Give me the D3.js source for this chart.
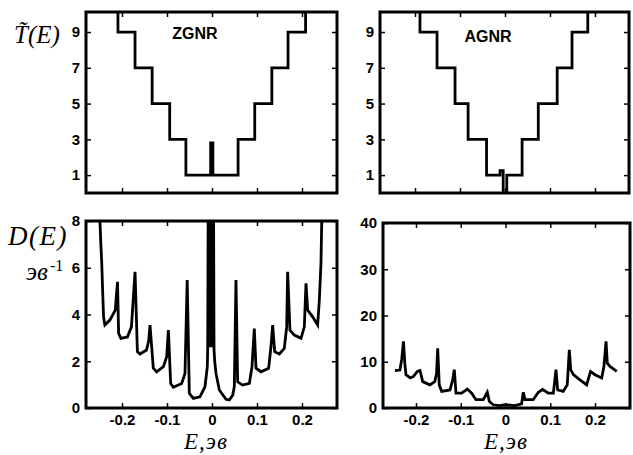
<!DOCTYPE html>
<html>
<head>
<meta charset="utf-8">
<script src="https://cdn.jsdelivr.net/npm/d3@7"></script>
<style>
body { margin: 0; background: #fff; }
.tick text { font-family: "Liberation Sans Narrow", "Liberation Sans", Arial, sans-serif; font-weight: bold; font-size: 15px; fill: #000; }
.tick line { stroke: #000; stroke-width: 1.5; }
.lbl { font-family: "Liberation Serif", "Times New Roman", serif; font-style: italic; fill: #000; }
.ttl { font-family: "Liberation Sans", Arial, sans-serif; font-weight: bold; font-size: 16px; fill: #000; }
</style>
</head>
<body>
<svg id="canvas" width="633" height="455"></svg>
<script>
// tick values
const eTicks = [-0.2, -0.1, 0, 0.1, 0.2];
const tTicks = [1, 3, 5, 7, 9];
const dTicksZ = [0, 2, 4, 6, 8];
const dTicksA = [0, 10, 20, 30, 40];

// transmission, step points (step after)
const zgnrTE = [-0.3, -0.209, -0.171, -0.133, -0.094, -0.058, -0.003, 0.002, 0.058, 0.095, 0.133, 0.169, 0.208, 0.3];
const zgnrT  = [11, 9, 7, 5, 3, 1, 2.8, 1, 3, 5, 7, 9, 11, 11];
const agnrTE = [-0.3, -0.189, -0.151, -0.111, -0.082, -0.041, -0.011, -0.004, 0.004, 0.038, 0.074, 0.116, 0.149, 0.184, 0.3];
const agnrT  = [11, 9, 7, 5, 3, 1, 1.25, 0, 1, 3, 5, 7, 9, 11, 11];

// density of states ZGNR
const zgnrDE = [-0.250, -0.247, -0.245, -0.243, -0.241, -0.238, -0.227, -0.215, -0.210, -0.2075, -0.2025, -0.188, -0.179, -0.171,
  -0.1658, -0.160, -0.1455, -0.1405, -0.1378, -0.1304, -0.123, -0.108, -0.1007, -0.0969, -0.0918, -0.0859, -0.0674, -0.060,
  -0.0551, -0.0504, -0.0415, -0.0267, -0.0156, -0.0104, -0.0095,
  -0.0085, -0.0075, -0.0065, -0.0055, -0.0045, -0.0035, -0.0025, -0.0015, -0.0005, 0.0005, 0.0015, 0.0025, 0.0035, 0.0045,
  0.006, 0.0089, 0.0163, 0.0311, 0.0385, 0.046, 0.0496, 0.0533, 0.057, 0.0681, 0.083, 0.0889, 0.094, 0.0978, 0.1089, 0.1259,
  0.131, 0.1348, 0.1393, 0.1496, 0.1607, 0.166, 0.1681, 0.1733, 0.183, 0.1978, 0.2052, 0.2089, 0.2126, 0.2237, 0.2348,
  0.2385, 0.2422, 0.2444];
const zgnrD = [8.5, 7.0, 6.2, 5.0, 3.9, 3.55, 3.76, 4.19, 5.40, 3.19, 2.98, 3.04, 3.47, 5.83,
  2.41, 2.31, 2.48, 2.9, 3.55, 1.70, 1.55, 1.77, 2.19, 3.33, 1.05, 0.89, 1.05, 1.48,
  5.47, 0.63, 0.41, 0.48, 0.91, 1.77, 2.6,
  8.5, 2.7, 8.5, 2.7, 8.5, 2.6, 8.5, 2.6, 8.5, 2.6, 8.5, 2.6, 8.5, 2.5,
  2.0, 1.48, 0.77, 0.37, 0.34, 0.55, 0.91, 5.47, 1.12, 0.98, 1.05, 1.77, 3.40, 1.70, 1.55, 1.70,
  2.62, 3.55, 2.41, 2.31, 2.55, 3.47, 5.83, 3.33, 3.12, 2.98, 3.47, 5.33, 4.19, 3.9, 3.55,
  4.6, 6.2, 8.5];

// density of states AGNR
const agnrDE = [-0.247, -0.236, -0.232, -0.228, -0.225, -0.2224, -0.213, -0.206, -0.197, -0.191, -0.185, -0.169, -0.158, -0.154,
  -0.1515, -0.148, -0.1426, -0.124, -0.118, -0.1144, -0.1106, -0.098, -0.0853, -0.0755, -0.066, -0.0496, -0.0407, -0.036,
  -0.0273, -0.013, 0.0, 0.021, 0.036, 0.0398, 0.0436, 0.062, 0.0733, 0.083, 0.0957, 0.107, 0.1128, 0.1166, 0.129, 0.138,
  0.1426, 0.1457, 0.1516, 0.1665, 0.1814, 0.19, 0.2, 0.215, 0.22, 0.2246, 0.2275, 0.2335, 0.2485];
const agnrD = [8.1, 8.2, 10.4, 14.4, 9.7, 7.2, 6.5, 6.8, 7.9, 8.1, 5.7, 5.0, 5.7, 7.5,
  12.9, 5.0, 3.6, 3.9, 6.1, 8.3, 3.2, 3.2, 4.1, 3.2, 1.8, 1.8, 3.4, 1.4,
  0.7, 0.5, 0.7, 0.5, 0.9, 3.4, 1.8, 1.8, 3.4, 4.0, 3.2, 3.2, 8.3, 3.9, 3.6, 5.0,
  12.6, 8.3, 7.2, 6.1, 5.0, 7.9, 7.2, 6.5, 9.0, 14.4, 9.7, 9.0, 7.9];

const svg = d3.select("#canvas");

const panels = [
  { x0: 86, y0: 12, x1: 337, y1: 193, xDom: [-0.28, 0.2778], yDom: [0, 10.12], yTicks: tTicks,
    xs: zgnrTE, ys: zgnrT, step: true, xLabels: false, title: "ZGNR", tx: 195, ty: 39 },
  { x0: 380, y0: 12, x1: 629, y1: 193, xDom: [-0.2778, 0.2756], yDom: [0, 10.12], yTicks: tTicks,
    xs: agnrTE, ys: agnrT, step: true, xLabels: false, title: "AGNR", tx: 488, ty: 42 },
  { x0: 86, y0: 221, x1: 337, y1: 408, xDom: [-0.28, 0.2778], yDom: [0, 8], yTicks: dTicksZ,
    xs: zgnrDE, ys: zgnrD, step: false, xLabels: true },
  { x0: 383, y0: 223, x1: 630, y1: 408, xDom: [-0.2737, 0.2782], yDom: [0, 40], yTicks: dTicksA,
    xs: agnrDE, ys: agnrD, step: false, xLabels: true }
];

panels.forEach((p, i) => {
  const x = d3.scaleLinear().domain(p.xDom).range([p.x0, p.x1]);
  const y = d3.scaleLinear().domain(p.yDom).range([p.y1, p.y0]);
  const g = svg.append("g");

  g.append("clipPath").attr("id", "clip" + i)
    .append("rect")
    .attr("x", p.x0).attr("y", p.y0)
    .attr("width", p.x1 - p.x0).attr("height", p.y1 - p.y0);

  const line = d3.line().x(d => x(d[0])).y(d => y(d[1]));
  if (p.step) line.curve(d3.curveStepAfter);

  g.append("path")
    .datum(d3.zip(p.xs, p.ys))
    .attr("clip-path", `url(#clip${i})`)
    .attr("d", line)
    .attr("fill", "none")
    .attr("stroke", "#000")
    .attr("stroke-width", 2.8);

  const fmt = d => String(d);

  g.append("g").attr("transform", `translate(0,${p.y1})`)
    .call(d3.axisBottom(x).tickValues(eTicks).tickSize(-5).tickPadding(6).tickFormat(p.xLabels ? fmt : ""))
    .call(a => a.select(".domain").remove());
  g.append("g").attr("transform", `translate(0,${p.y0})`)
    .call(d3.axisTop(x).tickValues(eTicks).tickSize(-5).tickFormat(""))
    .call(a => a.select(".domain").remove());
  g.append("g").attr("transform", `translate(${p.x0},0)`)
    .call(d3.axisLeft(y).tickValues(p.yTicks).tickSize(-5).tickPadding(6).tickFormat(fmt))
    .call(a => a.select(".domain").remove());
  g.append("g").attr("transform", `translate(${p.x1},0)`)
    .call(d3.axisRight(y).tickValues(p.yTicks).tickSize(-5).tickFormat(""))
    .call(a => a.select(".domain").remove());

  g.append("rect")
    .attr("x", p.x0).attr("y", p.y0)
    .attr("width", p.x1 - p.x0).attr("height", p.y1 - p.y0)
    .attr("fill", "none").attr("stroke", "#000").attr("stroke-width", 3);

  if (p.title) {
    g.append("text").attr("class", "ttl")
      .attr("x", p.tx).attr("y", p.ty).attr("text-anchor", "middle")
      .text(p.title);
  }
});

// axis titles
svg.append("text").attr("class", "lbl").attr("x", 14).attr("y", 43).style("font-size", "25px").text("T\u0303(E)");

svg.append("text").attr("class", "lbl").attr("x", 8).attr("y", 245).style("font-size", "27px").style("letter-spacing", "1.5px").text("D(E)");
svg.append("text").attr("class", "lbl").attr("x", 26).attr("y", 280).style("font-size", "25px").text("эв");
svg.append("text").attr("class", "lbl").attr("x", 50).attr("y", 271).style("font-size", "16px").style("font-style", "normal").text("-1");

svg.append("text").attr("class", "lbl").attr("x", 206).attr("y", 449).attr("text-anchor", "middle").style("font-size", "23px").style("letter-spacing", "1px").text("E,эв");
svg.append("text").attr("class", "lbl").attr("x", 506).attr("y", 449).attr("text-anchor", "middle").style("font-size", "23px").style("letter-spacing", "1px").text("E,эв");
</script>
</body>
</html>
